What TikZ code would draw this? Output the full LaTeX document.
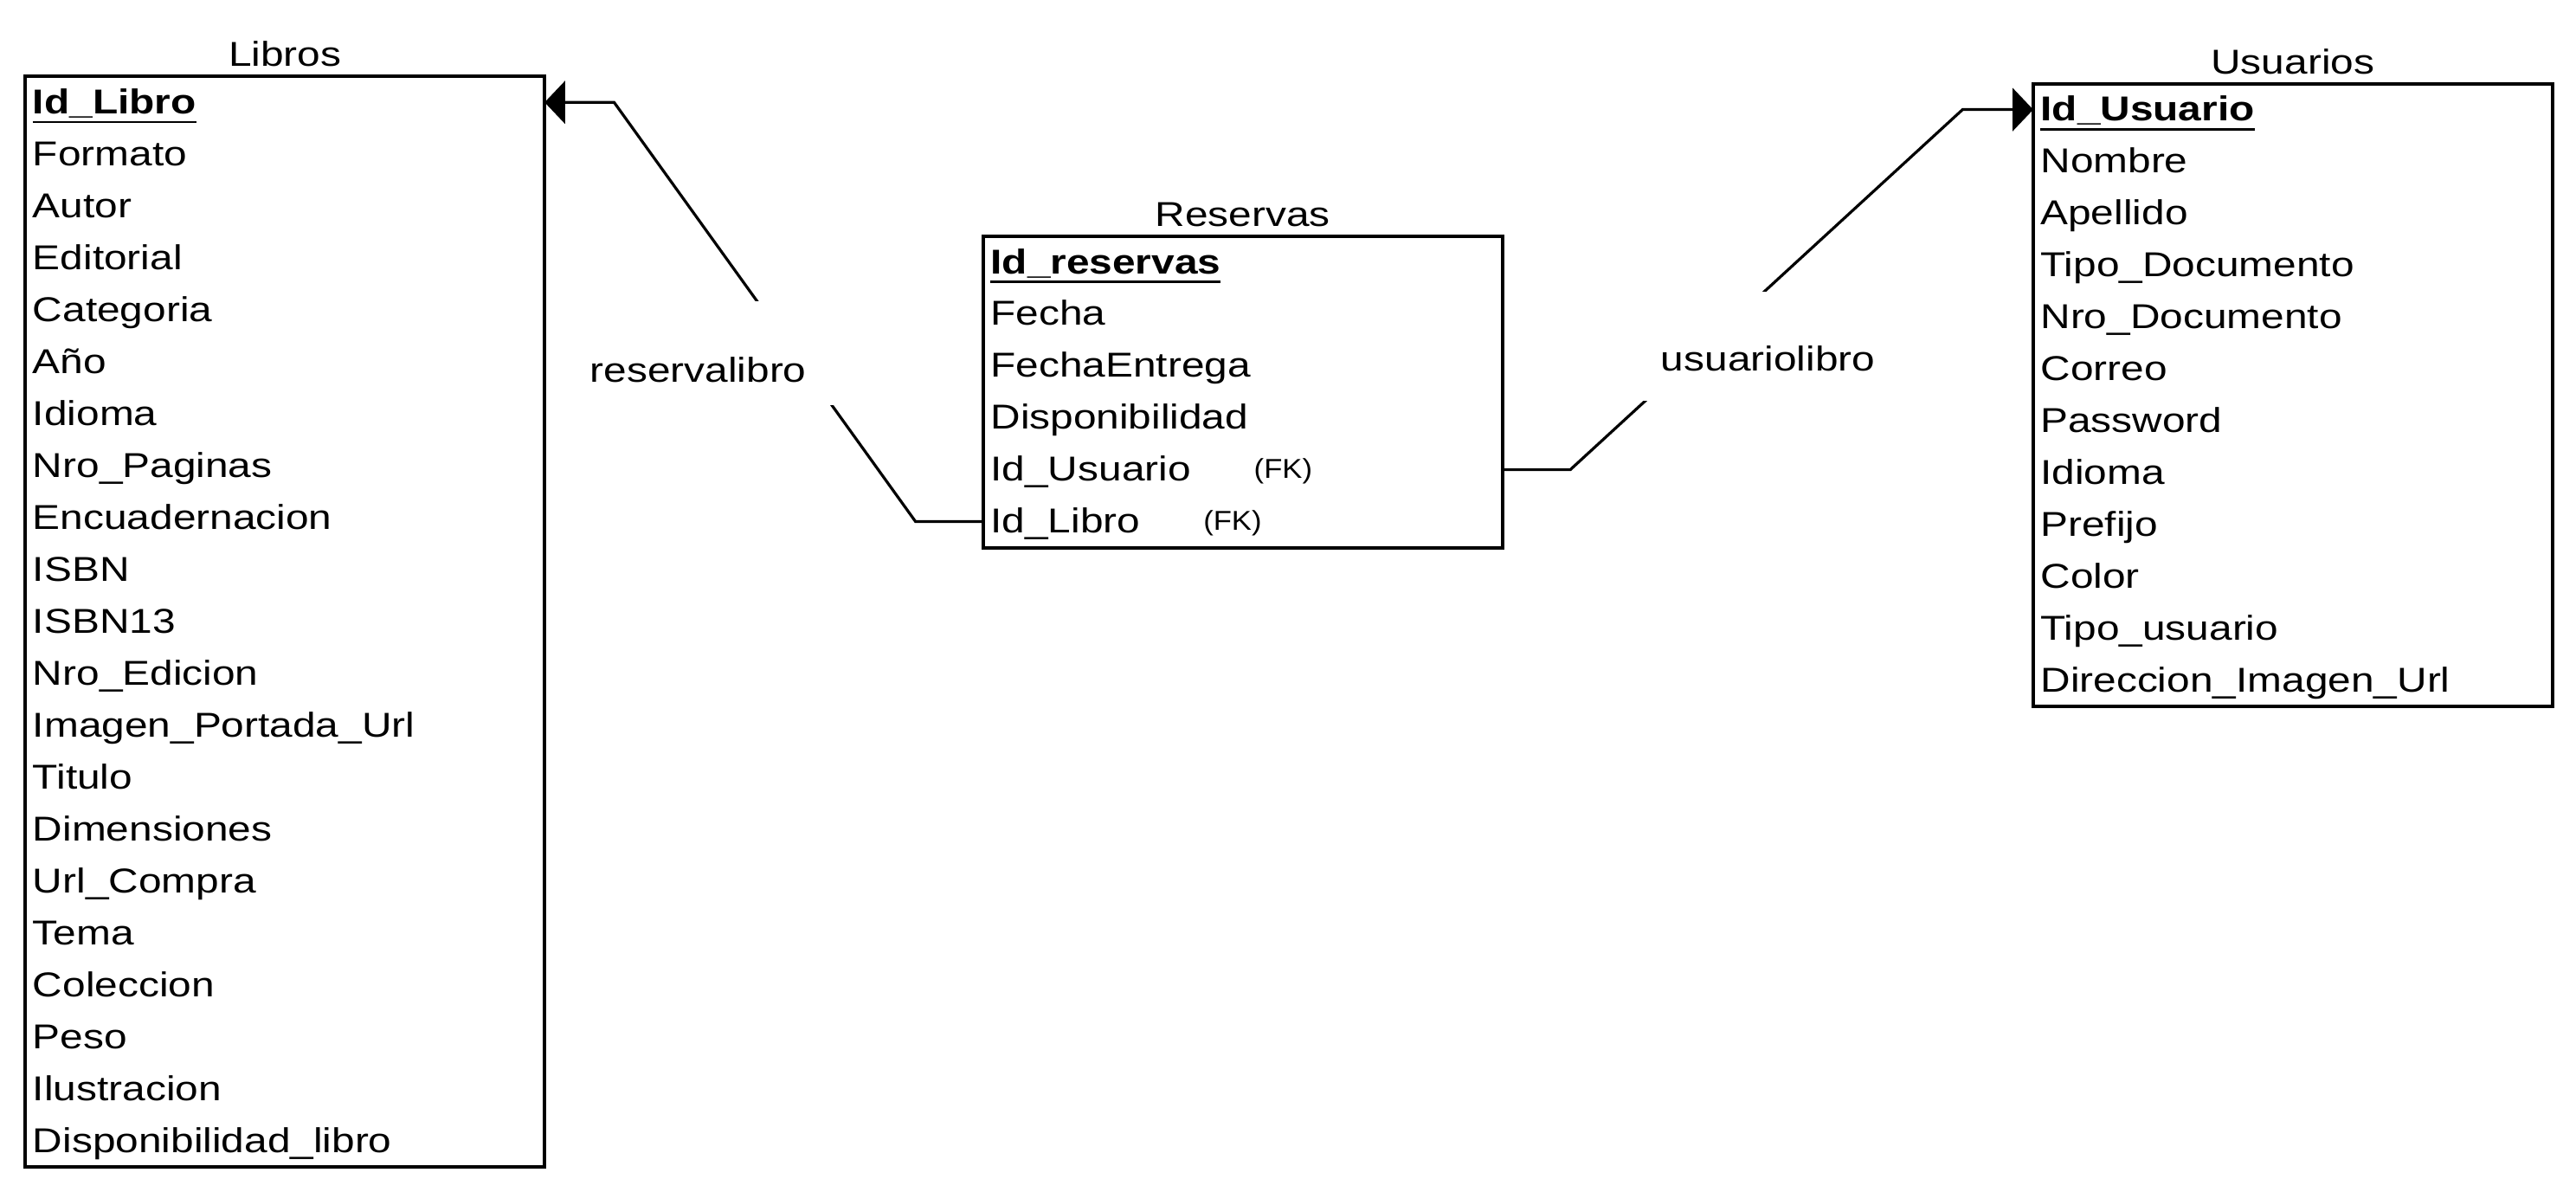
\documentclass[tikz,border=0pt]{standalone}
\usepackage{fontspec}
\setmainfont[FakeStretch=1.2]{Liberation Sans}
\newfontfamily\fkfont[FakeStretch=1.1]{Liberation Sans}
\usetikzlibrary{arrows.meta,fit,calc}
\newsavebox\pkbox
\newcommand\pkey[1]{\sbox\pkbox{\bfseries #1}\rlap{\rule[-5.7pt]{\wd\pkbox}{1.4pt}}\usebox\pkbox}
\newcommand\fkrow[2]{\makebox[#1][l]{#2}\raisebox{1.8pt}{\fkfont\fontsize{16.6pt}{19pt}\selectfont(FK)}}
\tikzset{
  rowtxt/.style={anchor=west, inner xsep=4.5pt, inner ysep=0pt, outer sep=0pt,
    text height=22.8pt, text depth=8.8pt, text width=307pt, align=left,
    font=\fontsize{21pt}{25pt}\selectfont},
  tablebox/.style={draw, line width=2.1pt, inner sep=0pt, outer sep=0pt},
  tabletitle/.style={anchor=base, inner sep=0pt, font=\fontsize{21pt}{25pt}\selectfont},
  conn/.style={line width=1.7pt},
  relarrow/.style={-{Triangle[length=12.5pt,width=26pt]}},
  rellabel/.style={fill=white, anchor=base, inner ysep=0pt, inner xsep=20pt,
    font=\fontsize{21pt}{25pt}\selectfont}
}
\begin{document}
\begin{tikzpicture}[x=1pt,y=-1pt]
\useasboundingbox (0,0) rectangle (1568,725);
% Libros
\foreach \t [count=\i from 0] in {{\pkey{Id\_Libro}},Formato,Autor,Editorial,Categoria,Año,Idioma,{Nro\_Paginas},Encuadernacion,ISBN,ISBN13,{Nro\_Edicion},{Imagen\_Portada\_Url},Titulo,Dimensiones,{Url\_Compra},Tema,Coleccion,Peso,Ilustracion,{Disponibilidad\_libro}}
  \node[rowtxt] (lib\i) at (15.5,{46.5+31.6*\i+15.8}) {\t};
\node[tablebox, fit=(lib0)(lib20)] (libros) {};
\node[tabletitle] (librost) at ($(libros.north)+(0,-6)$) {Libros};
% Reservas
\foreach \t [count=\i from 0] in {{\pkey{Id\_reservas}},Fecha,FechaEntrega,Disponibilidad,{\fkrow{160.3pt}{Id\_Usuario}},{\fkrow{129.5pt}{Id\_Libro}}}
  \node[rowtxt] (res\i) at (598.5,{143.7+31.6*\i+15.8}) {\t};
\node[tablebox, fit=(res0)(res5)] (reservas) {};
\node[tabletitle] (reservast) at ($(reservas.north)+(0,-6)$) {Reservas};
% Usuarios
\foreach \t [count=\i from 0] in {{\pkey{Id\_Usuario}},Nombre,Apellido,{Tipo\_Documento},{Nro\_Documento},Correo,Password,Idioma,Prefijo,Color,{Tipo\_usuario},{Direccion\_Imagen\_Url}}
  \node[rowtxt] (usu\i) at (1237.6,{50.9+31.6*\i+15.8}) {\t};
\node[tablebox, fit=(usu0)(usu11)] (usuarios) {};
\node[tabletitle] (usuariost) at ($(usuarios.north)+(0,-6)$) {Usuarios};
% connectors
\draw[conn, relarrow] (res5.west) -- ++(-41.2,0) -- ($(lib0.east)+(42.3,0)$) -- (lib0.east);
\draw[conn, relarrow] (res4.east) -- ++(41.3,0) -- ($(usu0.west)+(-43,0)$) -- (usu0.west);
% labels
\node[rellabel, text height=49.2pt, text depth=13.8pt] (lblres) at (425,232.7) {reservalibro};
\node[rellabel, text height=48.6pt, text depth=18pt] (lblusu) at (1076.2,226) {usuariolibro};
\end{tikzpicture}
\end{document}
